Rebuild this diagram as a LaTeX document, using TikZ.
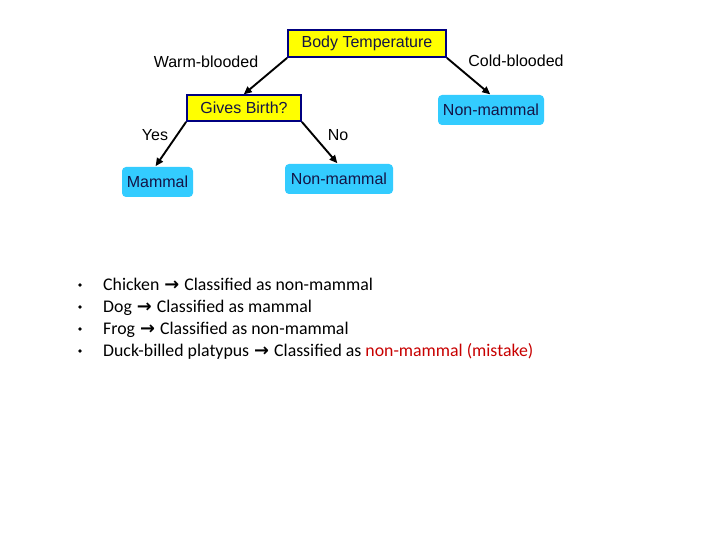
\documentclass[tikz,border=0pt]{standalone}
\usepackage{fontspec}
\setmainfont{Liberation Sans}
\newfontfamily\bulletfont{Carlito}
\newfontfamily\arrowfont{DejaVu Sans}
\usetikzlibrary{positioning,arrows.meta}
\definecolor{testfill}{RGB}{255,255,0}
\definecolor{testline}{RGB}{0,0,128}
\definecolor{leaffill}{RGB}{51,204,255}
\definecolor{nodetext}{RGB}{20,20,70}
\definecolor{mistake}{RGB}{200,0,0}
\newcommand{\implies}{{\arrowfont\bfseries\kern1pt →\kern1pt}}

\begin{document}
\begin{tikzpicture}[
  x=1pt, y=-1pt,
  testbox/.style={draw=testline, line width=1.8pt, fill=testfill,
                  text=nodetext, inner sep=0pt, font=\fontsize{16}{18}\selectfont},
  leafbox/.style={fill=leaffill, rounded corners=4pt, text=nodetext,
                  inner sep=0pt, font=\fontsize{16}{18}\selectfont},
  arrow/.style={-{Triangle[length=8pt,width=7pt]}, line width=1.9pt, shorten >=1pt},
  edgelabel/.style={font=\fontsize{16}{18}\selectfont},
  bullet/.style={anchor=base west, inner sep=0pt, font=\bulletfont\fontsize{17.8}{22}\selectfont}
]
\useasboundingbox[fill=white] (0,0) rectangle (720,540);

% tree
\node[testbox, minimum width=158pt, minimum height=27pt] (body) at (367,43.5) {Body Temperature};
\node[testbox, minimum width=114pt, minimum height=26pt] (birth) at (244,108) {Gives Birth?};
\node[leafbox, minimum width=106pt, minimum height=30pt] (nonA) at (491,110) {Non-mammal};
\node[leafbox, minimum width=71pt, minimum height=30pt] (mammal) at (157.5,182) {Mammal};
\node[leafbox, minimum width=108pt, minimum height=30pt] (nonB) at (339,179) {Non-mammal};

\coordinate (birthtop) at (243,95);
\coordinate (nonAtop) at (491,95);
\coordinate (mammaltop) at (155,167);
\coordinate (nonBtop) at (338,164);

\draw[arrow] (body.south west) -- (birthtop);
\draw[arrow] (body.south east) -- (nonAtop);
\draw[arrow] (birth.south west) -- (mammaltop);
\draw[arrow] (birth.south east) -- (nonBtop);

\node[edgelabel] (warm) at (206,62) {Warm-blooded};
\node[edgelabel] (cold) at (516,61) {Cold-blooded};
\node[edgelabel] (yes) at (155,135) {Yes};
\node[edgelabel] (no) at (338,135) {No};

% outcomes
\foreach \i/\txt in {1/{Chicken \implies{} Classified as non-mammal},
                     2/{Dog \implies{} Classified as mammal},
                     3/{Frog \implies{} Classified as non-mammal},
                     4/{Duck-billed platypus \implies{} Classified as \textcolor{mistake}{non-mammal (mistake)}}}{
  \node[circle, fill=black, inner sep=0pt, minimum size=3.8pt] (dot\i) at (80,{263+22*\i}) {};
  \node[bullet] (case\i) at (103,{268.5+22*\i}) {\txt};
}
\end{tikzpicture}
\end{document}
